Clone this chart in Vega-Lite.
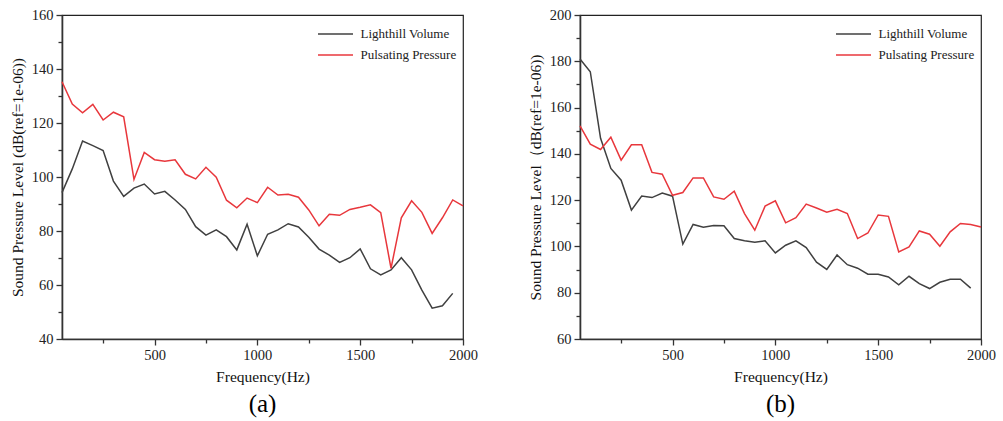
{
  "$schema": "https://vega.github.io/schema/vega-lite/v6.json",
  "background": "white",
  "padding": {"left": 9, "top": 6, "right": 0, "bottom": 0},
  "bounds": "flush",
  "spacing": 117,
  "datasets": {
    "a": [
      {"s": "Lighthill Volume", "f": 50, "v": 94.2},
      {"s": "Lighthill Volume", "f": 100, "v": 103.0},
      {"s": "Lighthill Volume", "f": 150, "v": 113.3},
      {"s": "Lighthill Volume", "f": 200, "v": 111.6},
      {"s": "Lighthill Volume", "f": 250, "v": 109.8},
      {"s": "Lighthill Volume", "f": 300, "v": 98.5},
      {"s": "Lighthill Volume", "f": 350, "v": 92.8},
      {"s": "Lighthill Volume", "f": 400, "v": 95.9},
      {"s": "Lighthill Volume", "f": 450, "v": 97.4},
      {"s": "Lighthill Volume", "f": 500, "v": 93.7},
      {"s": "Lighthill Volume", "f": 550, "v": 94.7},
      {"s": "Lighthill Volume", "f": 600, "v": 91.5},
      {"s": "Lighthill Volume", "f": 650, "v": 88.0},
      {"s": "Lighthill Volume", "f": 700, "v": 81.6},
      {"s": "Lighthill Volume", "f": 750, "v": 78.5},
      {"s": "Lighthill Volume", "f": 800, "v": 80.4},
      {"s": "Lighthill Volume", "f": 850, "v": 77.9},
      {"s": "Lighthill Volume", "f": 900, "v": 73.0},
      {"s": "Lighthill Volume", "f": 950, "v": 82.5},
      {"s": "Lighthill Volume", "f": 1000, "v": 70.8},
      {"s": "Lighthill Volume", "f": 1050, "v": 78.8},
      {"s": "Lighthill Volume", "f": 1100, "v": 80.4},
      {"s": "Lighthill Volume", "f": 1150, "v": 82.7},
      {"s": "Lighthill Volume", "f": 1200, "v": 81.5},
      {"s": "Lighthill Volume", "f": 1250, "v": 77.7},
      {"s": "Lighthill Volume", "f": 1300, "v": 73.3},
      {"s": "Lighthill Volume", "f": 1350, "v": 71.1},
      {"s": "Lighthill Volume", "f": 1400, "v": 68.4},
      {"s": "Lighthill Volume", "f": 1450, "v": 70.1},
      {"s": "Lighthill Volume", "f": 1500, "v": 73.4},
      {"s": "Lighthill Volume", "f": 1550, "v": 66.0},
      {"s": "Lighthill Volume", "f": 1600, "v": 63.7},
      {"s": "Lighthill Volume", "f": 1650, "v": 65.6},
      {"s": "Lighthill Volume", "f": 1700, "v": 70.1},
      {"s": "Lighthill Volume", "f": 1750, "v": 65.6},
      {"s": "Lighthill Volume", "f": 1800, "v": 58.1},
      {"s": "Lighthill Volume", "f": 1850, "v": 51.4},
      {"s": "Lighthill Volume", "f": 1900, "v": 52.3},
      {"s": "Lighthill Volume", "f": 1950, "v": 56.9},
      {"s": "Pulsating Pressure", "f": 50, "v": 135.3},
      {"s": "Pulsating Pressure", "f": 100, "v": 127.0},
      {"s": "Pulsating Pressure", "f": 150, "v": 123.8},
      {"s": "Pulsating Pressure", "f": 200, "v": 126.9},
      {"s": "Pulsating Pressure", "f": 250, "v": 121.1},
      {"s": "Pulsating Pressure", "f": 300, "v": 124.0},
      {"s": "Pulsating Pressure", "f": 350, "v": 122.3},
      {"s": "Pulsating Pressure", "f": 400, "v": 99.1},
      {"s": "Pulsating Pressure", "f": 450, "v": 109.1},
      {"s": "Pulsating Pressure", "f": 500, "v": 106.4},
      {"s": "Pulsating Pressure", "f": 550, "v": 105.8},
      {"s": "Pulsating Pressure", "f": 600, "v": 106.4},
      {"s": "Pulsating Pressure", "f": 650, "v": 101.0},
      {"s": "Pulsating Pressure", "f": 700, "v": 99.3},
      {"s": "Pulsating Pressure", "f": 750, "v": 103.6},
      {"s": "Pulsating Pressure", "f": 800, "v": 99.9},
      {"s": "Pulsating Pressure", "f": 850, "v": 91.4},
      {"s": "Pulsating Pressure", "f": 900, "v": 88.6},
      {"s": "Pulsating Pressure", "f": 950, "v": 92.2},
      {"s": "Pulsating Pressure", "f": 1000, "v": 90.5},
      {"s": "Pulsating Pressure", "f": 1050, "v": 96.2},
      {"s": "Pulsating Pressure", "f": 1100, "v": 93.3},
      {"s": "Pulsating Pressure", "f": 1150, "v": 93.6},
      {"s": "Pulsating Pressure", "f": 1200, "v": 92.5},
      {"s": "Pulsating Pressure", "f": 1250, "v": 87.8},
      {"s": "Pulsating Pressure", "f": 1300, "v": 81.9},
      {"s": "Pulsating Pressure", "f": 1350, "v": 86.2},
      {"s": "Pulsating Pressure", "f": 1400, "v": 85.8},
      {"s": "Pulsating Pressure", "f": 1450, "v": 88.0},
      {"s": "Pulsating Pressure", "f": 1500, "v": 88.8},
      {"s": "Pulsating Pressure", "f": 1550, "v": 89.7},
      {"s": "Pulsating Pressure", "f": 1600, "v": 86.8},
      {"s": "Pulsating Pressure", "f": 1650, "v": 66.2},
      {"s": "Pulsating Pressure", "f": 1700, "v": 84.9},
      {"s": "Pulsating Pressure", "f": 1750, "v": 91.2},
      {"s": "Pulsating Pressure", "f": 1800, "v": 86.9},
      {"s": "Pulsating Pressure", "f": 1850, "v": 79.1},
      {"s": "Pulsating Pressure", "f": 1900, "v": 84.9},
      {"s": "Pulsating Pressure", "f": 1950, "v": 91.5},
      {"s": "Pulsating Pressure", "f": 2000, "v": 89.3}
    ],
    "b": [
      {"s": "Lighthill Volume", "f": 50, "v": 181.0},
      {"s": "Lighthill Volume", "f": 100, "v": 175.5},
      {"s": "Lighthill Volume", "f": 150, "v": 146.7},
      {"s": "Lighthill Volume", "f": 200, "v": 133.7},
      {"s": "Lighthill Volume", "f": 250, "v": 128.6},
      {"s": "Lighthill Volume", "f": 300, "v": 115.7},
      {"s": "Lighthill Volume", "f": 350, "v": 121.8},
      {"s": "Lighthill Volume", "f": 400, "v": 121.1},
      {"s": "Lighthill Volume", "f": 450, "v": 123.1},
      {"s": "Lighthill Volume", "f": 500, "v": 121.7},
      {"s": "Lighthill Volume", "f": 550, "v": 101.0},
      {"s": "Lighthill Volume", "f": 600, "v": 109.5},
      {"s": "Lighthill Volume", "f": 650, "v": 108.3},
      {"s": "Lighthill Volume", "f": 700, "v": 109.0},
      {"s": "Lighthill Volume", "f": 750, "v": 108.9},
      {"s": "Lighthill Volume", "f": 800, "v": 103.4},
      {"s": "Lighthill Volume", "f": 850, "v": 102.5},
      {"s": "Lighthill Volume", "f": 900, "v": 101.8},
      {"s": "Lighthill Volume", "f": 950, "v": 102.4},
      {"s": "Lighthill Volume", "f": 1000, "v": 97.2},
      {"s": "Lighthill Volume", "f": 1050, "v": 100.5},
      {"s": "Lighthill Volume", "f": 1100, "v": 102.4},
      {"s": "Lighthill Volume", "f": 1150, "v": 99.5},
      {"s": "Lighthill Volume", "f": 1200, "v": 93.2},
      {"s": "Lighthill Volume", "f": 1250, "v": 90.1},
      {"s": "Lighthill Volume", "f": 1300, "v": 96.3},
      {"s": "Lighthill Volume", "f": 1350, "v": 92.1},
      {"s": "Lighthill Volume", "f": 1400, "v": 90.6},
      {"s": "Lighthill Volume", "f": 1450, "v": 88.0},
      {"s": "Lighthill Volume", "f": 1500, "v": 88.0},
      {"s": "Lighthill Volume", "f": 1550, "v": 86.8},
      {"s": "Lighthill Volume", "f": 1600, "v": 83.4},
      {"s": "Lighthill Volume", "f": 1650, "v": 87.1},
      {"s": "Lighthill Volume", "f": 1700, "v": 83.9},
      {"s": "Lighthill Volume", "f": 1750, "v": 81.8},
      {"s": "Lighthill Volume", "f": 1800, "v": 84.5},
      {"s": "Lighthill Volume", "f": 1850, "v": 85.8},
      {"s": "Lighthill Volume", "f": 1900, "v": 85.8},
      {"s": "Lighthill Volume", "f": 1950, "v": 82.0},
      {"s": "Pulsating Pressure", "f": 50, "v": 152.1},
      {"s": "Pulsating Pressure", "f": 100, "v": 144.2},
      {"s": "Pulsating Pressure", "f": 150, "v": 141.9},
      {"s": "Pulsating Pressure", "f": 200, "v": 147.2},
      {"s": "Pulsating Pressure", "f": 250, "v": 137.3},
      {"s": "Pulsating Pressure", "f": 300, "v": 143.9},
      {"s": "Pulsating Pressure", "f": 350, "v": 143.9},
      {"s": "Pulsating Pressure", "f": 400, "v": 132.0},
      {"s": "Pulsating Pressure", "f": 450, "v": 131.2},
      {"s": "Pulsating Pressure", "f": 500, "v": 122.1},
      {"s": "Pulsating Pressure", "f": 550, "v": 123.3},
      {"s": "Pulsating Pressure", "f": 600, "v": 129.6},
      {"s": "Pulsating Pressure", "f": 650, "v": 129.6},
      {"s": "Pulsating Pressure", "f": 700, "v": 121.4},
      {"s": "Pulsating Pressure", "f": 750, "v": 120.4},
      {"s": "Pulsating Pressure", "f": 800, "v": 123.9},
      {"s": "Pulsating Pressure", "f": 850, "v": 114.2},
      {"s": "Pulsating Pressure", "f": 900, "v": 107.0},
      {"s": "Pulsating Pressure", "f": 950, "v": 117.4},
      {"s": "Pulsating Pressure", "f": 1000, "v": 119.7},
      {"s": "Pulsating Pressure", "f": 1050, "v": 110.2},
      {"s": "Pulsating Pressure", "f": 1100, "v": 112.4},
      {"s": "Pulsating Pressure", "f": 1150, "v": 118.3},
      {"s": "Pulsating Pressure", "f": 1200, "v": 116.6},
      {"s": "Pulsating Pressure", "f": 1250, "v": 114.8},
      {"s": "Pulsating Pressure", "f": 1300, "v": 116.0},
      {"s": "Pulsating Pressure", "f": 1350, "v": 114.2},
      {"s": "Pulsating Pressure", "f": 1400, "v": 103.4},
      {"s": "Pulsating Pressure", "f": 1450, "v": 105.8},
      {"s": "Pulsating Pressure", "f": 1500, "v": 113.6},
      {"s": "Pulsating Pressure", "f": 1550, "v": 113.0},
      {"s": "Pulsating Pressure", "f": 1600, "v": 97.6},
      {"s": "Pulsating Pressure", "f": 1650, "v": 99.8},
      {"s": "Pulsating Pressure", "f": 1700, "v": 106.7},
      {"s": "Pulsating Pressure", "f": 1750, "v": 105.3},
      {"s": "Pulsating Pressure", "f": 1800, "v": 100.1},
      {"s": "Pulsating Pressure", "f": 1850, "v": 106.3},
      {"s": "Pulsating Pressure", "f": 1900, "v": 109.9},
      {"s": "Pulsating Pressure", "f": 1950, "v": 109.5},
      {"s": "Pulsating Pressure", "f": 2000, "v": 108.4}
    ]
  },
  "resolve": {"scale": {"color": "independent", "x": "independent", "y": "independent"}},
  "hconcat": [
    {
      "width": 401,
      "height": 324,
      "data": {"name": "a"},
      "title": {"text": "(a)", "orient": "bottom", "frame": "group"},
      "mark": {"type": "line", "strokeWidth": 1.5},
      "encoding": {
        "x": {
          "field": "f", "type": "quantitative",
          "scale": {"domain": [50, 2000], "nice": false, "zero": false},
          "axis": {
            "title": "Frequency(Hz)",
            "format": "d",
            "values": [250, 500, 750, 1000, 1250, 1500, 1750, 2000],
            "labelExpr": "datum.value % 500 === 0 ? datum.label : ''",
            "tickSize": {"condition": {"test": "datum.value % 500 === 0", "value": 6}, "value": 4}
          }
        },
        "y": {
          "field": "v", "type": "quantitative",
          "scale": {"domain": [40, 160], "nice": false, "zero": false},
          "axis": {
            "title": "Sound Pressure Level (dB(ref=1e-06))",
            "format": "d",
            "values": [40, 50, 60, 70, 80, 90, 100, 110, 120, 130, 140, 150, 160],
            "labelExpr": "datum.value % 20 === 0 ? datum.label : ''",
            "tickSize": {"condition": {"test": "datum.value % 20 === 0", "value": 6}, "value": 4}
          }
        },
        "color": {
          "field": "s", "type": "nominal",
          "scale": {"domain": ["Lighthill Volume", "Pulsating Pressure"], "range": ["#404040", "#e8373c"]},
          "legend": {"title": null, "orient": "none", "legendX": 262.5, "legendY": 8}
        }
      }
    },
    {
      "width": 401,
      "height": 324,
      "data": {"name": "b"},
      "title": {"text": "(b)", "orient": "bottom", "frame": "group"},
      "mark": {"type": "line", "strokeWidth": 1.5},
      "encoding": {
        "x": {
          "field": "f", "type": "quantitative",
          "scale": {"domain": [50, 2000], "nice": false, "zero": false},
          "axis": {
            "title": "Frequency(Hz)",
            "format": "d",
            "values": [250, 500, 750, 1000, 1250, 1500, 1750, 2000],
            "labelExpr": "datum.value % 500 === 0 ? datum.label : ''",
            "tickSize": {"condition": {"test": "datum.value % 500 === 0", "value": 6}, "value": 4}
          }
        },
        "y": {
          "field": "v", "type": "quantitative",
          "scale": {"domain": [60, 200], "nice": false, "zero": false},
          "axis": {
            "title": "Sound Pressure Level（dB(ref=1e-06))",
            "format": "d",
            "values": [60, 70, 80, 90, 100, 110, 120, 130, 140, 150, 160, 170, 180, 190, 200],
            "labelExpr": "datum.value % 20 === 0 ? datum.label : ''",
            "tickSize": {"condition": {"test": "datum.value % 20 === 0", "value": 6}, "value": 4}
          }
        },
        "color": {
          "field": "s", "type": "nominal",
          "scale": {"domain": ["Lighthill Volume", "Pulsating Pressure"], "range": ["#404040", "#e8373c"]},
          "legend": {"title": null, "orient": "none", "legendX": 262.5, "legendY": 8}
        }
      }
    }
  ],
  "config": {
    "font": "Liberation Serif",
    "view": {"stroke": "#222222", "strokeWidth": 1.2},
    "axis": {
      "grid": false,
      "labelFont": "Liberation Serif",
      "labelFontSize": 14.5,
      "labelColor": "#222222",
      "labelPadding": 3,
      "labelOverlap": false,
      "labelFlush": false,
      "titleFont": "Liberation Serif",
      "titleFontSize": 15.5,
      "titleFontWeight": "normal",
      "titleColor": "#111111",
      "titlePadding": 6,
      "domainColor": "#333333",
      "domainWidth": 1.6,
      "tickColor": "#333333",
      "tickWidth": 1.3
    },
    "axisX": {"titlePadding": 8},
    "legend": {
      "labelFont": "Liberation Serif",
      "labelFontSize": 13,
      "labelColor": "#222222",
      "labelOffset": 14,
      "symbolType": "M-1.75,0H1.75",
      "symbolSize": 400,
      "symbolStrokeWidth": 1.6,
      "rowPadding": 3,
      "padding": 0
    },
    "title": {
      "font": "Liberation Serif",
      "fontSize": 25,
      "fontWeight": "normal",
      "color": "#000000",
      "offset": 7
    }
  }
}
